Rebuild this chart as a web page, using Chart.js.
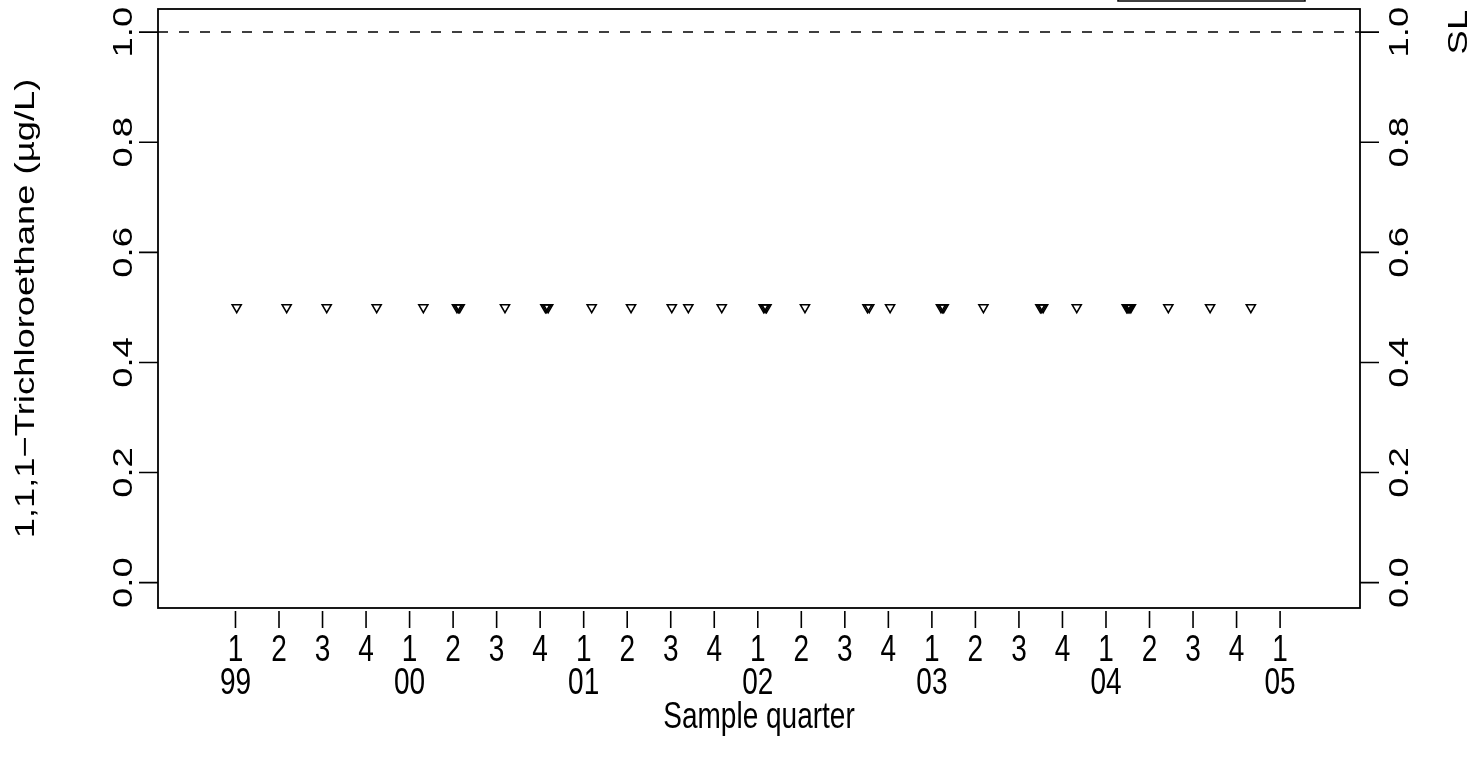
<!DOCTYPE html>
<html>
<head>
<meta charset="utf-8">
<script src="https://cdn.jsdelivr.net/npm/chart.js@4"></script>
<style>
  body { margin: 0; background: #fff; }
  canvas { display: block; }
</style>
</head>
<body>
<canvas id="tcaChart" width="1472" height="759"></canvas>
<script>
// sample dates as decimal years
const sampleDates = [
    1999.007, 1999.294, 1999.524, 1999.811,
    2000.079, 2000.272, 2000.280, 2000.288, 2000.548, 2000.780, 2000.788, 2000.796,
    2001.046, 2001.272, 2001.506, 2001.601, 2001.793,
    2002.034, 2002.042, 2002.050, 2002.271, 2002.630, 2002.640, 2002.760,
    2003.052, 2003.060, 2003.068, 2003.296, 2003.623, 2003.631, 2003.639, 2003.832,
    2004.119, 2004.125, 2004.131, 2004.137, 2004.143, 2004.358, 2004.598, 2004.832
];
// non-detects, all reported at 0.5 ug/L
const concentrations = [
    0.5, 0.5, 0.5, 0.5,
    0.5, 0.5, 0.5, 0.5, 0.5, 0.5, 0.5, 0.5,
    0.5, 0.5, 0.5, 0.5, 0.5,
    0.5, 0.5, 0.5, 0.5, 0.5, 0.5, 0.5,
    0.5, 0.5, 0.5, 0.5, 0.5, 0.5, 0.5, 0.5,
    0.5, 0.5, 0.5, 0.5, 0.5, 0.5, 0.5, 0.5
];
const quarterTicks = [
    1999, 1999.25, 1999.5, 1999.75, 2000, 2000.25, 2000.5, 2000.75,
    2001, 2001.25, 2001.5, 2001.75, 2002, 2002.25, 2002.5, 2002.75,
    2003, 2003.25, 2003.5, 2003.75, 2004, 2004.25, 2004.5, 2004.75, 2005
];
const quarterLabels = ['1', '2', '3', '4', '1', '2', '3', '4', '1', '2', '3', '4',
    '1', '2', '3', '4', '1', '2', '3', '4', '1', '2', '3', '4', '1'];
const yearTicks = [1999, 2000, 2001, 2002, 2003, 2004, 2005];
const yearLabels = ['99', '00', '01', '02', '03', '04', '05'];
const yTicks = [0, 0.2, 0.4, 0.6, 0.8, 1.0];
const yTickLabels = ['0.0', '0.2', '0.4', '0.6', '0.8', '1.0'];
const slValue = 1.0;

const FONT = '28px "Liberation Sans", Arial, sans-serif';
const STRETCH = 1.3; // the source image is stretched vertically

function hText(c, txt, x, y) {
    c.save();
    c.translate(x, y);
    c.scale(1, STRETCH);
    c.textAlign = 'center';
    c.textBaseline = 'alphabetic';
    c.fillText(txt, 0, 0);
    c.restore();
}
function vText(c, txt, x, y) {
    c.save();
    c.translate(x, y);
    c.rotate(-Math.PI / 2);
    c.scale(STRETCH, 1);
    c.textAlign = 'center';
    c.textBaseline = 'alphabetic';
    c.fillText(txt, 0, 0);
    c.restore();
}

// R-style box, axes and labels
const rAxes = {
    id: 'rAxes',
    beforeDatasetsDraw(chart) {
        const c = chart.ctx, a = chart.chartArea;
        const ys = chart.scales.y;
        c.save();
        c.strokeStyle = '#000';
        // SL dashed line
        c.lineWidth = 1.5;
        c.setLineDash([10, 11]);
        c.beginPath();
        c.moveTo(a.left, ys.getPixelForValue(slValue));
        c.lineTo(a.right, ys.getPixelForValue(slValue));
        c.stroke();
        c.restore();
    },
    afterDraw(chart) {
        const c = chart.ctx, a = chart.chartArea;
        const xs = chart.scales.x, ys = chart.scales.y;
        c.save();
        c.strokeStyle = '#000';
        c.fillStyle = '#000';
        c.lineWidth = 1.8;
        c.strokeRect(a.left, a.top, a.right - a.left, a.bottom - a.top);
        // partially visible legend box above the plot
        c.lineWidth = 1.5;
        c.strokeRect(1118, -10, 187, 11);

        c.font = FONT;
        c.lineWidth = 1.6;
        // left and right y axes
        yTicks.forEach((v, i) => {
            const py = ys.getPixelForValue(v);
            c.beginPath();
            c.moveTo(a.left - 19, py); c.lineTo(a.left, py);
            c.moveTo(a.right, py); c.lineTo(a.right + 19, py);
            c.stroke();
            vText(c, yTickLabels[i], a.left - 26, py);
            vText(c, yTickLabels[i], a.right + 48, py);
        });
        // SL label on right axis
        vText(c, 'SL', a.right + 107, ys.getPixelForValue(slValue));

        // x axis: quarter ticks and labels
        quarterTicks.forEach((v, i) => {
            const px = xs.getPixelForValue(v);
            c.beginPath();
            c.moveTo(px, a.bottom + 3); c.lineTo(px, a.bottom + 20);
            c.stroke();
            hText(c, quarterLabels[i], px, a.bottom + 53);
        });
        yearTicks.forEach((v, i) => {
            hText(c, yearLabels[i], xs.getPixelForValue(v), a.bottom + 86);
        });
        hText(c, 'Sample quarter', (a.left + a.right) / 2, a.bottom + 120);

        // y title
        vText(c, '1,1,1\u2212Trichloroethane (\u00b5g/L)', 34, (a.top + a.bottom) / 2);
        c.restore();
    }
};

const ctx = document.getElementById('tcaChart').getContext('2d');
new Chart(ctx, {
    type: 'scatter',
    data: {
        datasets: [{
            label: '1,1,1-Trichloroethane',
            data: sampleDates.map((d, i) => ({ x: d, y: concentrations[i] })),
            pointStyle: 'triangle',
            rotation: 180,
            radius: 5.2,
            borderWidth: 1.6,
            borderColor: '#000',
            backgroundColor: 'rgba(0,0,0,0)'
        }]
    },
    options: {
        responsive: false,
        animation: false,
        layout: { padding: { left: 158, right: 112, top: 9, bottom: 151 } },
        scales: {
            x: { type: 'linear', min: 1998.555, max: 2005.459, display: false },
            y: { type: 'linear', min: -0.046, max: 1.042, display: false }
        },
        plugins: {
            legend: { display: false },
            tooltip: { enabled: false }
        }
    },
    plugins: [rAxes]
});
</script>
</body>
</html>
